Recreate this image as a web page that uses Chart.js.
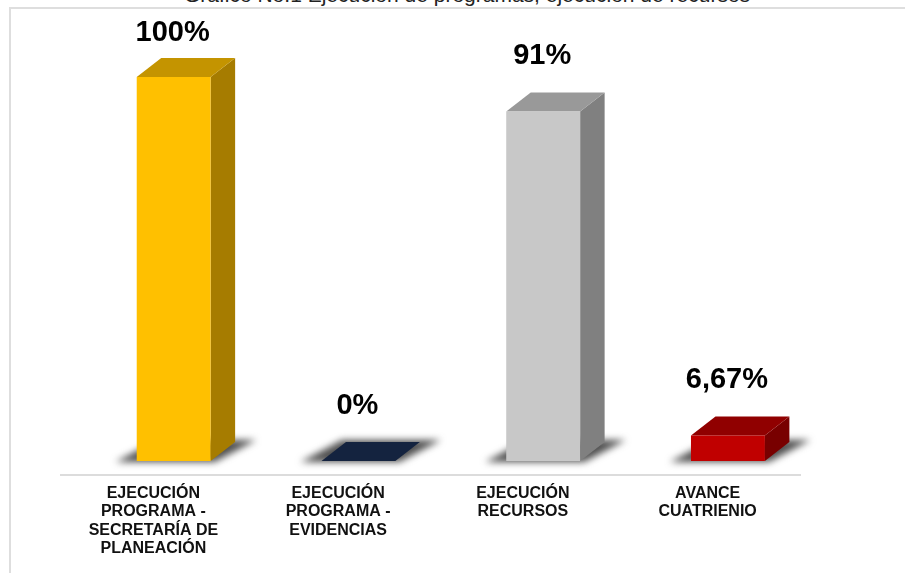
<!DOCTYPE html>
<html lang="es">
<head>
<meta charset="utf-8">
<title>Gráfico No.1</title>
<script src="https://cdn.jsdelivr.net/npm/chart.js@4"></script>
<style>
    html, body { margin: 0; padding: 0; background: #fff; overflow: hidden; }
    #page { position: relative; width: 905px; height: 573px; overflow: hidden; }
    #frame { position: absolute; left: 9px; top: 7px; right: -2px; bottom: -2px; border-left: 2px solid #dedede; border-top: 2px solid #dedede; }
    #chart-title { position: absolute; left: 0; width: 934px; top: -17px; text-align: center; font: 21px "Liberation Sans", Arial, sans-serif; color: #222; white-space: nowrap; }
    canvas { position: absolute; left: 0; top: 0; }
</style>
</head>
<body>
<div id="page">
    <div id="frame"></div>
    <div id="chart-title">Gráfico No.1 Ejecución de programas, ejecución de recursos</div>
    <canvas id="bars-chart" width="905" height="573"></canvas>
</div>
<script>
const categories = [
    ['EJECUCIÓN', 'PROGRAMA -', 'SECRETARÍA DE', 'PLANEACIÓN'],
    ['EJECUCIÓN', 'PROGRAMA -', 'EVIDENCIAS'],
    ['EJECUCIÓN', 'RECURSOS'],
    ['AVANCE', 'CUATRIENIO']
];
const values = [100, 0, 91, 6.67];
const valueLabels = ['100%', '0%', '91%', '6,67%'];
const frontColors = ['#FFC000', '#14233F', '#C8C8C8', '#C00000'];
const topColors = ['#C49400', '#14233F', '#999999', '#900000'];
const sideColors = ['#A67C00', '#0E1A30', '#808080', '#780000'];

// the 3D look: bars stand on a floor behind the axis line
const floorShift = { x: 20.3, y: -14 };
const depth = { x: 24.5, y: -19 };

function fillShape(ctx, points, color) {
    ctx.fillStyle = color;
    ctx.beginPath();
    points.forEach((p, i) => i ? ctx.lineTo(p[0], p[1]) : ctx.moveTo(p[0], p[1]));
    ctx.closePath();
    ctx.fill();
}

const bars3d = {
    id: 'bars3d',
    beforeDatasetsDraw(chart) {
        const ctx = chart.ctx;
        ctx.save();
        ctx.translate(floorShift.x, floorShift.y);

        chart.getDatasetMeta(0).data.forEach((bar, i) => {
            const left = bar.x - bar.width / 2;
            const right = bar.x + bar.width / 2;
            const top = bar.y;
            const base = bar.base;

            // floor shadow
            ctx.save();
            ctx.filter = 'blur(3.5px)';
            fillShape(ctx, [
                [left - 21, base + 1],
                [right + 4, base + 1],
                [right + depth.x + 21, base + depth.y - 2],
                [left + depth.x - 4, base + depth.y - 2]
            ], '#505050');
            ctx.restore();

            // side and top faces
            fillShape(ctx, [
                [right, top],
                [right + depth.x, top + depth.y],
                [right + depth.x, base + depth.y],
                [right, base]
            ], sideColors[i]);
            fillShape(ctx, [
                [left, top],
                [left + depth.x, top + depth.y],
                [right + depth.x, top + depth.y],
                [right, top]
            ], topColors[i]);
        });
    },
    afterDatasetsDraw(chart) {
        const ctx = chart.ctx;
        ctx.font = 'bold 29px "Liberation Sans", Arial, sans-serif';
        ctx.fillStyle = '#000';
        ctx.textAlign = 'center';
        ctx.textBaseline = 'alphabetic';
        chart.getDatasetMeta(0).data.forEach((bar, i) => {
            // the tallest label is held inside the frame
            const y = Math.max(bar.y - 47.5, 41 - floorShift.y);
            ctx.fillText(valueLabels[i], bar.x - 1, y);
        });
        ctx.restore();
    }
};

new Chart(document.getElementById('bars-chart'), {
    type: 'bar',
    data: {
        labels: categories,
        datasets: [{
            data: values,
            backgroundColor: frontColors,
            barPercentage: 0.4,
            categoryPercentage: 1,
            clip: false
        }]
    },
    options: {
        responsive: false,
        animation: false,
        layout: { padding: { left: 61, right: 105, top: 14.2, bottom: 0 } },
        plugins: {
            legend: { display: false },
            tooltip: { enabled: false }
        },
        scales: {
            x: {
                afterFit: scale => { scale.height = 98; },
                grid: { display: false },
                border: { display: true, color: '#dcdcdc', width: 2 },
                ticks: {
                    autoSkip: false,
                    maxRotation: 0,
                    padding: 1.5,
                    color: '#111',
                    font: { family: '"Liberation Sans", Arial, sans-serif', size: 16, weight: 'bold', lineHeight: 1.14 }
                }
            },
            y: { display: false, min: 0, max: 120 }
        }
    },
    plugins: [bars3d]
});
</script>
</body>
</html>
